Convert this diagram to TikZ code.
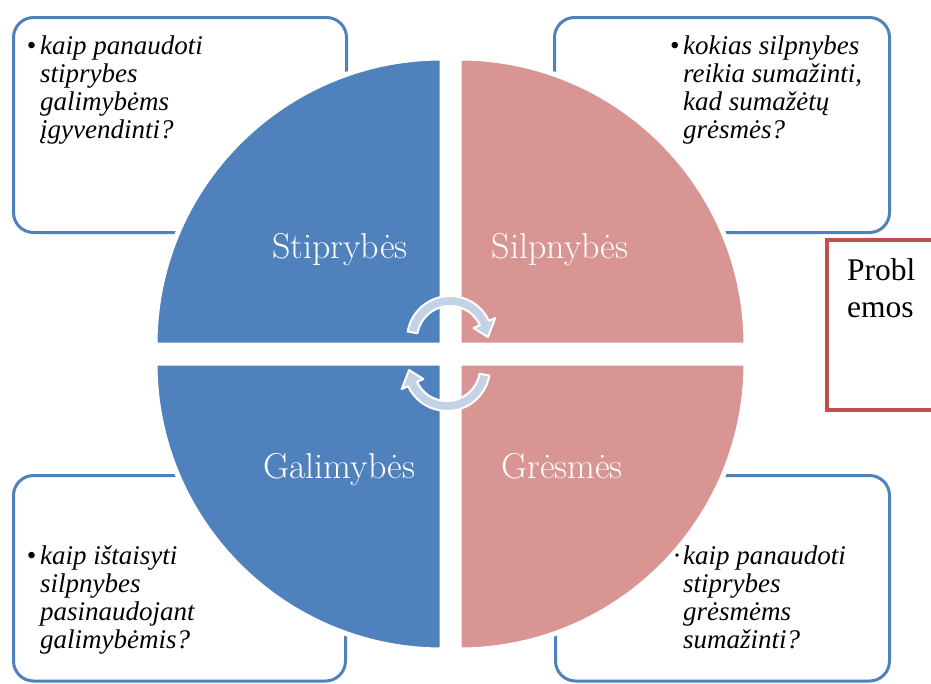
\documentclass[tikz,border=0pt]{standalone}
\usepackage{fontspec}
\newfontfamily\timesfont{Liberation Serif}
\definecolor{qblue}{HTML}{4F81BD}
\definecolor{qpink}{HTML}{D99594}
\definecolor{pred}{HTML}{C0504D}
\definecolor{arrowfill}{RGB}{196,210,230}
\tikzset{
  qbox/.style={draw=qblue, line width=3pt, rounded corners=20pt, fill=white},
  quad/.style={draw=white, line width=5pt},
  qlabel/.style={text=white, font=\fontsize{36}{40}\selectfont, anchor=base, inner sep=0pt},
  qtext/.style={font=\timesfont\itshape\fontsize{27}{27.7}\selectfont, align=left, anchor=base west, inner sep=0pt},
  cyc/.style={fill=arrowfill, draw=white, line width=2pt, line join=round},
  probbox/.style={draw=pred, line width=4pt},
  probtext/.style={font=\timesfont\fontsize{31.5}{37}\selectfont, align=left, anchor=base west, inner sep=0pt},
}
\newcommand{\bul}{\llap{\textbullet\hspace{4pt}}}
\newcommand{\dotbul}{\llap{·\hspace{3pt}}}
\begin{document}
\begin{tikzpicture}[x=1pt, y=-1pt]
  \clip (0,0) rectangle (931,683);
  \fill[white] (0,0) rectangle (931,683);
  % corner boxes
  \path[qbox] (13.5,17.5) rectangle (346.5,232.5);
  \path[qbox] (554.5,17.5) rectangle (889.5,232.5);
  \path[qbox] (13.5,475.5) rectangle (345.5,681);
  \path[qbox] (555.5,475.5) rectangle (889.5,681);
  % quadrants
  \path[quad, fill=qblue] (442,345) -- (155,345) arc[start angle=180, end angle=270, radius=287] -- cycle;
  \path[quad, fill=qpink] (459,345) -- (459,58) arc[start angle=270, end angle=360, radius=287] -- cycle;
  \path[quad, fill=qblue] (442,363) -- (155,363) arc[start angle=180, end angle=90, radius=287] -- cycle;
  \path[quad, fill=qpink] (459,363) -- (746,363) arc[start angle=0, end angle=90, radius=287] -- cycle;
  % labels
  \node[qlabel] (s) at (340,258) {Stiprybės};
  \node[qlabel] (w) at (560,258) {Silpnybės};
  \node[qlabel] (o) at (339,478) {Galimybės};
  \node[qlabel] (t) at (562,478) {Grėsmės};
  % cycle arrows
  \begin{scope}[shift={(450,339)}]
    \path[cyc] (-170:43) arc[start angle=-170, end angle=-25, radius=43] -- (-25:50) -- (-3:38) -- (-25:26) -- (-25:33) arc[start angle=-25, end angle=-170, radius=33] -- cycle;
  \end{scope}
  \begin{scope}[shift={(447,368)}]
    \path[cyc] (10:43) arc[start angle=10, end angle=155, radius=43] -- (155:50) -- (177:38) -- (155:26) -- (155:33) arc[start angle=155, end angle=10, radius=33] -- cycle;
  \end{scope}
  % box texts (anchored at the baseline of the last line)
  \node[qtext] (tl) at (40,138) {\bul kaip panaudoti\\stiprybes\\galimybėms\\įgyvendinti?};
  \node[qtext] (tr) at (683,138) {\bul kokias silpnybes\\reikia sumažinti,\\kad sumažėtų\\grėsmės?};
  \node[qtext] (bl) at (40,648) {\bul kaip ištaisyti\\silpnybes\\pasinaudojant\\galimybėmis?};
  \node[qtext] (br) at (683,648) {\dotbul kaip panaudoti\\stiprybes\\grėsmėms\\sumažinti?};
  % problems box
  \path[probbox] (827,240) rectangle (950,410);
  \node[probtext] (p) at (847,317) {Probl\\emos};
\end{tikzpicture}
\end{document}
